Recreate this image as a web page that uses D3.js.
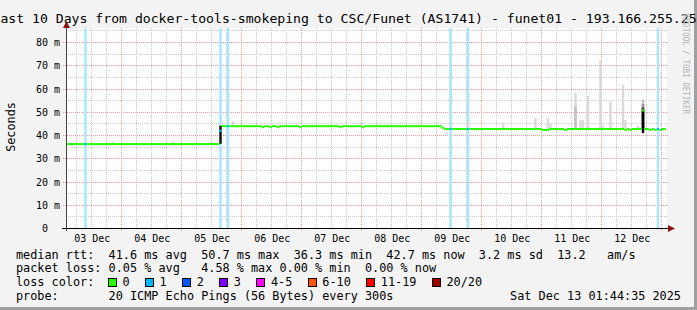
<!DOCTYPE html>
<html>
<head>
<meta charset="utf-8">
<script src="https://cdn.jsdelivr.net/npm/d3@7"></script>
<style>
  body { margin: 0; background: #f3f3f3; }
  svg text { font-family: "DejaVu Sans Mono", monospace; fill: #000; white-space: pre; }
</style>
</head>
<body>
<div id="chart"></div>
<script>
const title = "Last 10 Days from docker-tools-smokeping to CSC/Funet (AS1741) - funet01 - 193.166.255.251";
const startTime = "2025-12-03 01:44:35";
const endTime = "2025-12-13 01:44:35";

// y axis in milliseconds
const yMajor = [0, 10, 20, 30, 40, 50, 60, 70, 80];
const yMinor = [5, 15, 25, 35, 45, 55, 65, 75, 85];

// median rtt per hour block: block start, median (ms), lost pings (of 20)
const median = [
  ["2025-12-03 01:00", 36.3, 0],
  ["2025-12-03 09:00", 36.3, 1],
  ["2025-12-03 10:00", 36.3, 0],
  ["2025-12-05 15:00", 42.0, 1],
  ["2025-12-05 16:00", 44.0, 0],
  ["2025-12-05 18:00", 44.0, 1],
  ["2025-12-05 19:00", 44.0, 0],
  ["2025-12-06 08:00", 43.6, 0],
  ["2025-12-06 09:00", 44.0, 0],
  ["2025-12-06 11:00", 43.6, 0],
  ["2025-12-06 12:00", 44.0, 0],
  ["2025-12-06 14:00", 43.6, 0],
  ["2025-12-06 15:00", 44.0, 0],
  ["2025-12-06 23:00", 43.6, 0],
  ["2025-12-07 00:00", 44.0, 0],
  ["2025-12-07 15:00", 43.6, 0],
  ["2025-12-07 16:00", 44.0, 0],
  ["2025-12-08 00:00", 43.6, 0],
  ["2025-12-08 01:00", 44.0, 0],
  ["2025-12-09 08:00", 43.3, 0],
  ["2025-12-09 09:00", 42.8, 0],
  ["2025-12-09 11:00", 42.8, 1],
  ["2025-12-09 12:00", 42.8, 0],
  ["2025-12-09 18:00", 42.8, 1],
  ["2025-12-09 19:00", 42.8, 0],
  ["2025-12-11 00:00", 42.4, 0],
  ["2025-12-11 03:00", 42.8, 0],
  ["2025-12-11 09:00", 42.4, 0],
  ["2025-12-11 10:00", 42.8, 0],
  ["2025-12-12 09:00", 42.4, 0],
  ["2025-12-12 10:00", 42.8, 0],
  ["2025-12-12 11:00", 42.4, 0],
  ["2025-12-12 12:00", 42.8, 0],
  ["2025-12-12 16:00", 50.7, 0],
  ["2025-12-12 17:00", 42.8, 0],
  ["2025-12-12 19:00", 42.4, 0],
  ["2025-12-12 20:00", 42.8, 0],
  ["2025-12-12 21:00", 42.4, 0],
  ["2025-12-12 22:00", 42.8, 1],
  ["2025-12-12 23:00", 42.4, 0],
  ["2025-12-13 00:00", 42.8, 0],
  ["2025-12-13 01:00", 42.7, 0]
];

// smoke: hour block, low (ms), high (ms), how many pings fall in the band
const smoke = [
  ["2025-12-03 20:00", 36.3, 37.3, 1],
  ["2025-12-04 20:00", 36.3, 37.3, 1],
  ["2025-12-05 15:00", 36.4, 44.2, 9],
  ["2025-12-05 20:00", 44.0, 46.2, 1],
  ["2025-12-09 18:00", 42.8, 46.0, 1],
  ["2025-12-10 08:00", 42.8, 45.4, 1],
  ["2025-12-10 21:00", 42.8, 47.5, 1],
  ["2025-12-11 02:00", 42.4, 47.5, 1],
  ["2025-12-11 03:00", 42.8, 45.5, 1],
  ["2025-12-11 13:00", 42.8, 58.4, 1],
  ["2025-12-11 13:00", 42.8, 52.7, 2],
  ["2025-12-11 15:00", 42.8, 46.6, 1],
  ["2025-12-11 16:00", 42.8, 46.6, 1],
  ["2025-12-11 18:00", 42.8, 57.0, 1],
  ["2025-12-11 23:00", 42.8, 72.1, 1],
  ["2025-12-12 00:00", 42.8, 44.3, 1],
  ["2025-12-12 03:00", 42.8, 54.6, 1],
  ["2025-12-12 08:00", 42.8, 61.8, 1],
  ["2025-12-12 09:00", 42.4, 46.7, 1],
  ["2025-12-12 14:00", 42.8, 44.2, 1],
  ["2025-12-12 16:00", 42.4, 55.4, 2],
  ["2025-12-12 16:00", 42.4, 53.5, 4],
  ["2025-12-12 16:00", 42.4, 52.0, 7],
  ["2025-12-12 16:00", 41.0, 51.0, 10]
];

const lossLabels = ["0", "1", "2", "3", "4-5", "6-10", "11-19", "20/20"];
const lossColors = ["#26ff00", "#00b8ff", "#0059ff", "#7e00ff", "#ff00ff", "#ff5500", "#ff0000", "#a10000"];

const rtt = { avg: 41.6, max: 50.7, min: 36.3, now: 42.7, sd: 3.2, ams: 13.2 };
const loss = { avg: 0.05, max: 4.58, min: 0.00, now: 0.00 };
const probe = "20 ICMP Echo Pings (56 Bytes) every 300s";
const stamp = "Sat Dec 13 01:44:35 2025";

const width = 697;
const height = 310;
const plotTop = 28;

const parseBlock = d3.utcParse("%Y-%m-%d %H:%M");
const parseStamp = d3.utcParse("%Y-%m-%d %H:%M:%S");
const t0 = parseStamp(startTime);
const t1 = parseStamp(endTime);

const x = d3.scaleUtc().domain([t0, t1]).range([66.1, 666.1]);
const y = d3.scaleLinear().domain([0, 80]).range([228.5, 42.5]);
const px = v => Math.floor(v) + 0.5;

const svg = d3.select("#chart")
  .append("svg")
  .attr("width", width)
  .attr("height", height);

svg.append("rect").attr("width", width).attr("height", height).attr("fill", "#f3f3f3");
// frame shade right / bottom
svg.append("rect").attr("x", width - 3).attr("y", 0).attr("width", 3).attr("height", height).attr("fill", "#a0a0a0");
svg.append("rect").attr("x", 0).attr("y", height - 3).attr("width", width).attr("height", 3).attr("fill", "#a0a0a0");

// canvas
svg.append("rect")
  .attr("x", 66).attr("y", plotTop)
  .attr("width", 601).attr("height", 228 - plotTop)
  .attr("fill", "#fff");

// GRID
const grid = svg.append("g").attr("stroke-width", 1).attr("stroke-dasharray", "1,1").attr("shape-rendering", "crispEdges");
const days = d3.utcDay.range(t0, t1);
const sixHours = d3.utcHour.every(6).range(t0, t1).filter(d => d.getUTCHours() !== 0);

grid.selectAll(".vmin").data(sixHours).join("line")
  .attr("x1", d => px(x(d))).attr("x2", d => px(x(d)))
  .attr("y1", plotTop).attr("y2", 228)
  .attr("stroke", "#cccccc");
grid.selectAll(".hmin").data(yMinor).join("line")
  .attr("x1", 66).attr("x2", 667)
  .attr("y1", d => px(y(d))).attr("y2", d => px(y(d)))
  .attr("stroke", "#cccccc");
grid.selectAll(".vmaj").data(days).join("line")
  .attr("x1", d => px(x(d))).attr("x2", d => px(x(d)))
  .attr("y1", plotTop).attr("y2", 231)
  .attr("stroke", "#f19a9a");
grid.selectAll(".hmaj").data(yMajor.slice(1)).join("line")
  .attr("x1", 63).attr("x2", 669)
  .attr("y1", d => px(y(d))).attr("y2", d => px(y(d)))
  .attr("stroke", "#f19a9a");

// run end = start of next run, last one ends at graph end
const runs = median.map((d, i) => ({
  start: parseBlock(d[0]),
  end: i < median.length - 1 ? parseBlock(median[i + 1][0]) : t1,
  ms: d[1],
  lost: d[2]
}));
const clampX = t => Math.max(x(t0), Math.min(x(t1), x(t)));

// loss background bars
svg.append("g").selectAll("rect").data(runs.filter(d => d.lost > 0)).join("rect")
  .attr("x", d => clampX(d.start))
  .attr("width", d => clampX(d.end) - clampX(d.start))
  .attr("y", plotTop).attr("height", 228 - plotTop)
  .attr("fill", d => d3.interpolateRgb(lossColors[d.lost], "#ffffff")(0.66));

// smoke
const shade = d3.scaleLinear().domain([1, 10]).range(["#dadada", "#000000"]);
const oneHour = 3600 * 1000;
svg.append("g").selectAll("rect").data(smoke).join("rect")
  .attr("x", d => x(parseBlock(d[0])))
  .attr("width", d => x(new Date(+parseBlock(d[0]) + oneHour)) - x(parseBlock(d[0])))
  .attr("y", d => y(d[2]))
  .attr("height", d => y(d[1]) - y(d[2]))
  .attr("fill", d => shade(d[3]));

// median line, coloured by loss
svg.append("g").selectAll("rect").data(runs).join("rect")
  .attr("x", d => clampX(d.start))
  .attr("width", d => clampX(d.end) - clampX(d.start))
  .attr("y", d => y(d.ms) - 1)
  .attr("height", 2)
  .attr("fill", d => lossColors[d.lost]);

// AXES
svg.append("line")
  .attr("x1", 62).attr("x2", 669).attr("y1", 228.5).attr("y2", 228.5)
  .attr("stroke", "#000");
svg.append("line")
  .attr("x1", 66.5).attr("x2", 66.5).attr("y1", 25).attr("y2", 231)
  .attr("stroke", "#444");
svg.append("path").attr("d", "M66.5,21 L63,28 L70,28 Z").attr("fill", "#8f1515");
svg.append("path").attr("d", "M675,228.5 L668,225 L668,232 Z").attr("fill", "#8f1515");

// Y-AS labels
svg.append("g")
  .attr("transform", "translate(60,0)")
  .call(d3.axisLeft(y).tickValues(yMajor).tickSize(0).tickPadding(0)
    .tickFormat(d => d === 0 ? "0  " : d + " m"))
  .call(g => g.select(".domain").remove())
  .selectAll("text").attr("font-size", 10).attr("font-family", "DejaVu Sans Mono");

// X-AS labels, at noon of each day
const noons = d3.utcDay.range(d3.utcDay.floor(t0), t1)
  .map(d => d3.utcHour.offset(d, 12))
  .filter(d => d >= t0 && d <= t1);
svg.append("g")
  .attr("transform", "translate(0,232)")
  .call(d3.axisBottom(x).tickValues(noons).tickSize(0).tickPadding(3)
    .tickFormat(d3.utcFormat("%d %b")))
  .call(g => g.select(".domain").remove())
  .selectAll("text").attr("font-size", 10).attr("font-family", "DejaVu Sans Mono");

// title, y label, watermark
svg.append("text")
  .attr("x", width / 2).attr("y", 23)
  .attr("text-anchor", "middle")
  .attr("font-size", 13.15)
  .text(title);

svg.append("text")
  .attr("transform", "translate(15,127) rotate(-90)")
  .attr("text-anchor", "middle")
  .attr("font-size", 11.8)
  .text("Seconds");

svg.append("text")
  .attr("transform", "translate(683,14) rotate(90)")
  .attr("font-size", 8.5)
  .attr("textLength", 100)
  .attr("lengthAdjust", "spacingAndGlyphs")
  .style("fill", "#b4b4b4")
  .text("RRDTOOL / TOBI OETIKER");

// LEGENDA
const f1 = d3.format(".1f");
const f2 = d3.format(".2f");
const rows = [
  `median rtt:  ${f1(rtt.avg)} ms avg  ${f1(rtt.max)} ms max  ${f1(rtt.min)} ms min  ${f1(rtt.now)} ms now  ${f1(rtt.sd)} ms sd  ${f1(rtt.ams)}   am/s`,
  `packet loss: ${f2(loss.avg)} % avg   ${f2(loss.max)} % max ${f2(loss.min)} % min  ${f2(loss.now)} % now`,
  "loss color:",
  `probe:       ${probe}`
];
const legendFont = 11.83;
const charW = 7.12;
svg.append("g").selectAll("text").data(rows).join("text")
  .attr("x", 16)
  .attr("y", (d, i) => 258.5 + i * 13.8)
  .attr("font-size", legendFont)
  .text(d => d);

svg.append("text")
  .attr("x", 681).attr("y", 258.5 + 3 * 13.8)
  .attr("text-anchor", "end")
  .attr("font-size", legendFont)
  .text(stamp);

// loss colour boxes
let lx = 108;
const lossItems = lossLabels.map((label, i) => {
  const item = { label, color: lossColors[i], bx: lx, tx: lx + 14.5 };
  lx = item.tx + label.length * charW + 15.5;
  return item;
});
const lossRow = svg.append("g");
lossRow.selectAll("rect").data(lossItems).join("rect")
  .attr("x", d => Math.round(d.bx) + 0.5).attr("y", 278.5)
  .attr("width", 8).attr("height", 8)
  .attr("fill", d => d.color)
  .attr("stroke", "#000");
lossRow.selectAll("text").data(lossItems).join("text")
  .attr("x", d => d.tx)
  .attr("y", 258.5 + 2 * 13.8)
  .attr("font-size", legendFont)
  .text(d => d.label);
</script>
</body>
</html>
